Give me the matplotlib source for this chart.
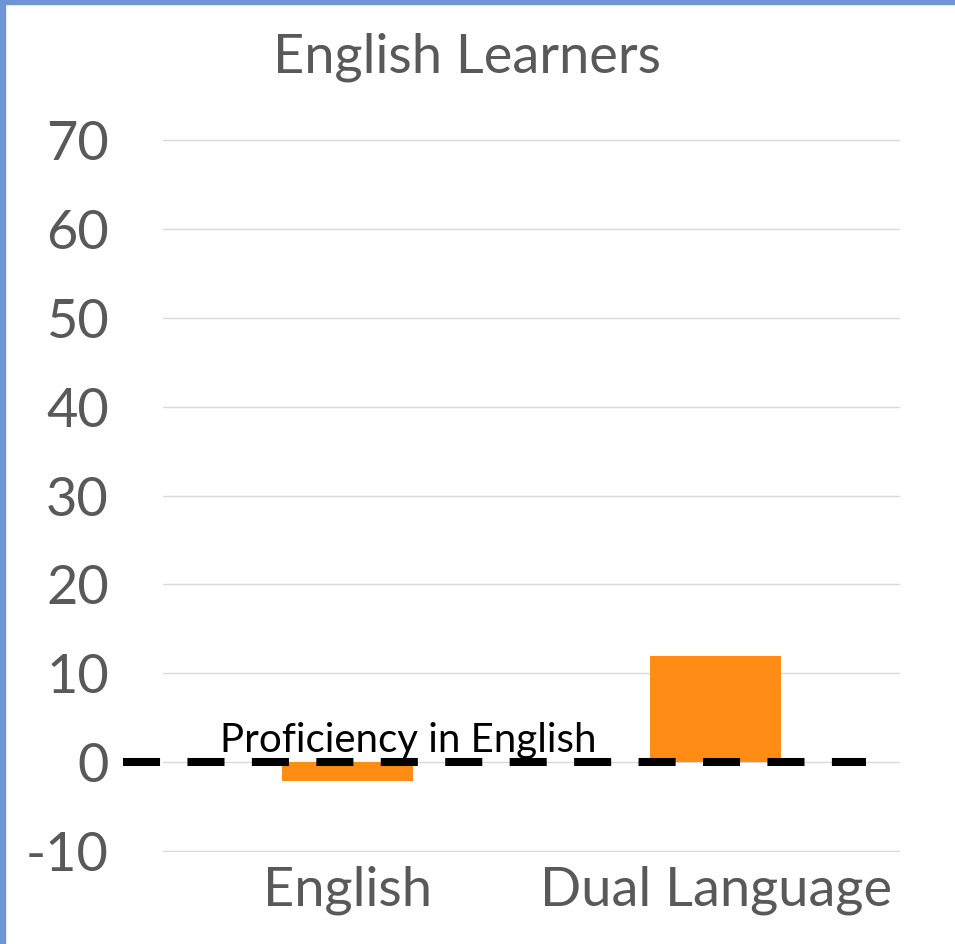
import matplotlib
matplotlib.use("Agg")
import matplotlib.pyplot as plt
from matplotlib.patches import Rectangle

categories = ["English", "Dual Language"]
values = [-2.1, 12.0]
yticks = [-10, 0, 10, 20, 30, 40, 50, 60, 70]
title = "English Learners"
ref_label = "Proficiency in English"
ref_value = 0

FONT = ["Lato", "DejaVu Sans"]
GRAY = "#595959"
ORANGE = "#FF8C14"

fig = plt.figure(figsize=(9.55, 9.44), dpi=100)
fig.patch.set_facecolor("white")
ax = fig.add_axes([163/955, 1-852/944, (900-163)/955, (852-139)/944])

x = list(range(len(categories)))
ax.bar(x, values, width=0.355, color=ORANGE, zorder=2)

ax.set_xlim(-0.5, 1.5)
ax.set_ylim(-10.1, 70.1)
ax.set_yticks(yticks)
ax.set_yticklabels([str(t) for t in yticks], fontsize=39, color=GRAY, family=FONT)
ax.set_xticks(x)
ax.set_xticklabels(categories, fontsize=39, color=GRAY, family=FONT)
ax.tick_params(axis="y", length=0, pad=39)
ax.tick_params(axis="x", length=0, pad=10)
ax.grid(axis="y", color="#d9d9d9", linewidth=1, zorder=0)
ax.set_axisbelow(True)
for s in ax.spines.values():
    s.set_visible(False)

ax.plot([-0.6085, 1.4077], [ref_value, ref_value], color="black", linewidth=5.8,
        linestyle=(0, (4.6, 3.4)), clip_on=False, zorder=3,
        dash_capstyle="butt", solid_capstyle="butt")
ax.text(-0.346, ref_value + 1.1, ref_label, fontsize=29, color="black",
        family=FONT, ha="left", va="baseline", zorder=4)

fig.text(0.4895, 1-57/944, title, fontsize=39, color=GRAY, family=FONT,
         ha="center", va="center")

# blue border on left and top
fig.patches.append(Rectangle((0, 0), 5/955, 1, transform=fig.transFigure,
                             color="#6E95D6", zorder=10))
fig.patches.append(Rectangle((0, 1-4/944), 1, 4/944, transform=fig.transFigure,
                             color="#6E95D6", zorder=10))

fig.savefig("out.png", dpi=100)
